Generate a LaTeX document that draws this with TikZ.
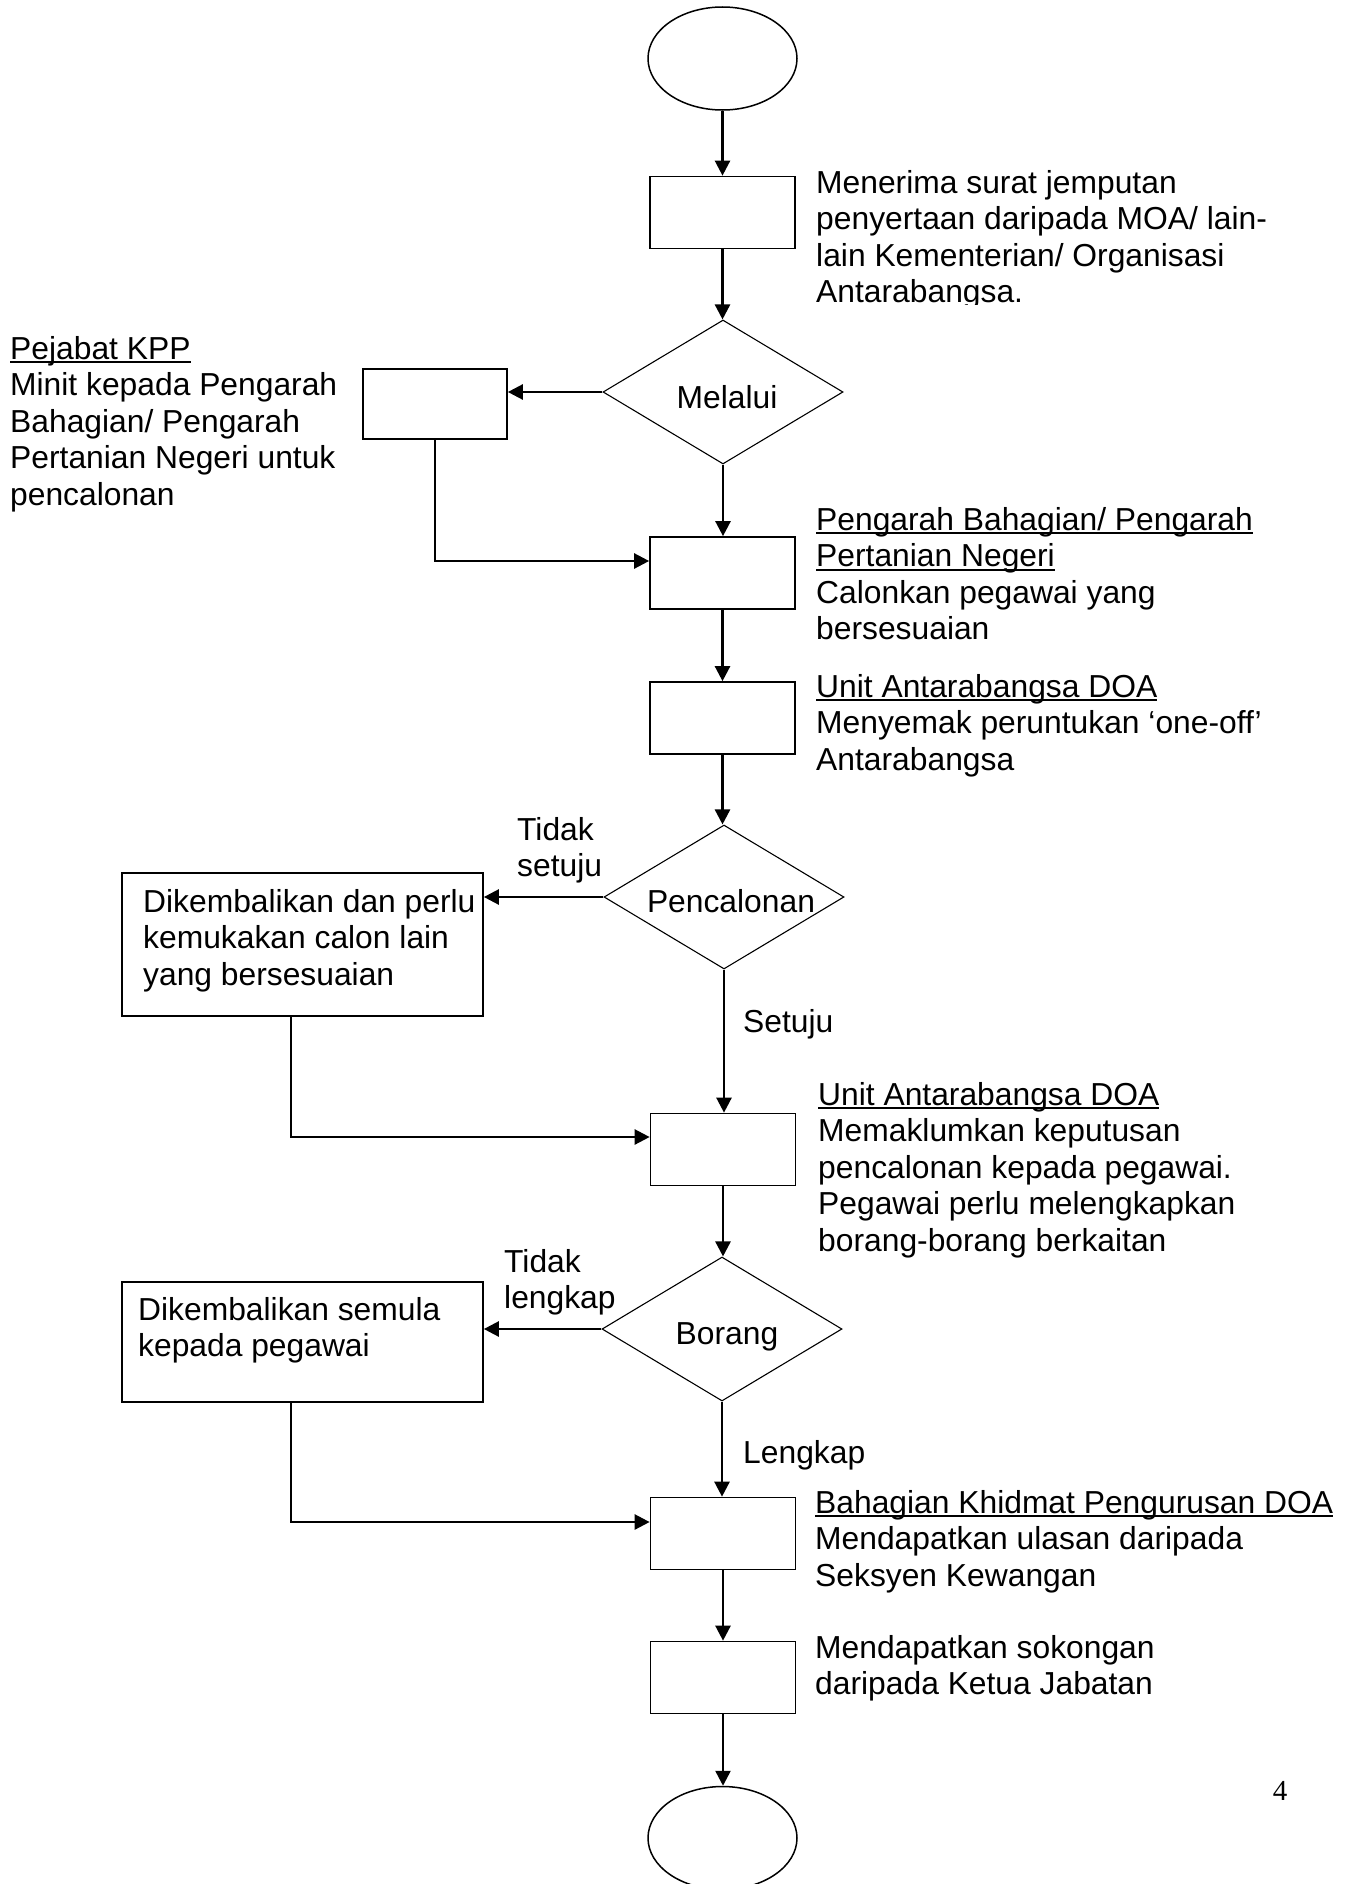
\documentclass[tikz,border=0pt]{standalone}
\usepackage{fontspec}
\setmainfont{Liberation Sans}
\newfontfamily\numfont{Liberation Serif}
\usetikzlibrary{arrows.meta,shapes.geometric,calc}
\newsavebox\ulbox
\newcommand{\ulx}[1]{\sbox\ulbox{#1}\rlap{\rule[-4pt]{\wd\ulbox}{2pt}}\usebox\ulbox}
\newcommand{\lines}[1]{\begin{tabular}[t]{@{}l@{}}#1\end{tabular}}
\begin{document}
\begin{tikzpicture}[x=1pt,y=-1pt,
  bx/.style={draw, line width=1.7pt, minimum width=145pt, minimum height=72pt, inner sep=0},
  ell/.style={ellipse, draw, line width=1.5pt, minimum width=149pt, minimum height=103pt, inner sep=0},
  dia/.style={diamond, draw, line width=1.1pt, minimum width=240pt, minimum height=144pt, inner sep=0},
  arr/.style={line width=2.5pt, -{Triangle[length=15pt,width=15pt]}},
  txt/.style={anchor=base west, inner sep=0, font=\fontsize{31.8}{36.5}\selectfont},
  lbl/.style={anchor=base, inner sep=0, font=\fontsize{31.8}{36.5}\selectfont}]
\useasboundingbox (0,0) rectangle (1355,1884);
\fill[white] (0,0) rectangle (1355,1884);

% main column shapes
\node[ell] (s) at (722.5,58.5) {};
\node[bx] (b1) at (722.5,212.5) {};
\node[dia] (d1) at (723,392) {};
\node[bx] (b2) at (722.5,573) {};
\node[bx] (b3) at (722.5,718) {};
\node[dia] (d2) at (724,897) {};
\node[bx] (b5) at (723,1149.5) {};
\node[dia] (d3) at (722,1329) {};
\node[bx] (b7) at (723,1533.5) {};
\node[bx] (b8) at (723,1677.5) {};
\node[ell] (e) at (722.5,1838) {};

% left column boxes
\node[bx, minimum width=144pt, minimum height=70pt] (kpp) at (435,404) {};
\node[bx, minimum width=361pt, minimum height=143pt] (b4) at (302.5,944.5) {};
\node[bx, minimum width=361pt, minimum height=120pt] (b6) at (302.5,1342) {};

% diamond labels
\node[lbl] (l1) at (727,408) {Melalui};
\node[lbl] (l2) at (731,912) {Pencalonan};
\node[lbl] (l3) at (727,1344) {Borang};

% side texts
\begin{scope}
\clip (800,150) rectangle (1355,304);
\node[txt] (t1) at (816,193) {\lines{Menerima surat jemputan\\penyertaan daripada MOA/ lain-\\lain Kementerian/ Organisasi\\Antarabangsa.}};
\end{scope}
\node[txt] (tk) at (10,359) {\lines{\ulx{Pejabat KPP}\\Minit kepada Pengarah\\Bahagian/ Pengarah\\Pertanian Negeri untuk\\pencalonan}};
\node[txt] (t2) at (816,530) {\lines{\ulx{Pengarah Bahagian/ Pengarah}\\\ulx{Pertanian Negeri}\\Calonkan pegawai yang\\bersesuaian}};
\node[txt] (t3) at (816,697) {\lines{\ulx{Unit Antarabangsa DOA}\\Menyemak peruntukan ‘one-off’\\Antarabangsa}};
\node[txt] (n1) at (517,840) {\lines{Tidak\\setuju}};
\node[txt] (y1) at (743,1032) {Setuju};
\node[txt] (t4) at (143,912) {\lines{Dikembalikan dan perlu\\kemukakan calon lain\\yang bersesuaian}};
\node[txt] (t5) at (818,1105) {\lines{\ulx{Unit Antarabangsa DOA}\\Memaklumkan keputusan\\pencalonan kepada pegawai.\\Pegawai perlu melengkapkan\\borang-borang berkaitan}};
\node[txt] (n2) at (504,1272) {\lines{Tidak\\lengkap}};
\node[txt] (t6) at (138,1320) {\lines{Dikembalikan semula\\kepada pegawai}};
\node[txt] (y2) at (743,1463) {Lengkap};
\node[txt] (t7) at (815,1513) {\lines{\ulx{Bahagian Khidmat Pengurusan DOA}\\Mendapatkan ulasan daripada\\Seksyen Kewangan}};
\node[txt] (t8) at (815,1658) {\lines{Mendapatkan sokongan\\daripada Ketua Jabatan}};
\node[anchor=base, inner sep=0, font=\numfont\fontsize{29}{34}\selectfont] (pg) at (1280,1800) {4};

% connector helper coordinates
\path (b2.west) ++(0,-12) coordinate (j1);
\path (b4.south) ++(-11.5,0) coordinate (f1);
\path (b5.west) ++(0,-12.5) coordinate (j2);
\path (b6.south) ++(-11.5,0) coordinate (f2);
\path (b7.west) ++(0,-11.5) coordinate (j3);

% connectors
\draw[arr] (s.south) -- (s.south |- b1.north);
\draw[arr] (b1.south) -- (b1.south |- d1.north);
\draw[arr] (d1.west) -- (d1.west -| kpp.east);
\draw[arr] (d1.south) -- (d1.south |- b2.north);
\draw[arr] (kpp.south) |- (j1);
\draw[arr] (b2.south) -- (b2.south |- b3.north);
\draw[arr] (b3.south) -- (b3.south |- d2.north);
\draw[arr] (d2.west) -- (d2.west -| b4.east);
\draw[arr] (d2.south) -- (d2.south |- b5.north);
\draw[arr] (f1) |- (j2);
\draw[arr] (b5.south) -- (b5.south |- d3.north);
\draw[arr] (d3.west) -- (d3.west -| b6.east);
\draw[arr] (d3.south) -- (d3.south |- b7.north);
\draw[arr] (f2) |- (j3);
\draw[arr] (b7.south) -- (b7.south |- b8.north);
\draw[arr] (b8.south) -- (b8.south |- e.north);
\end{tikzpicture}
\end{document}
